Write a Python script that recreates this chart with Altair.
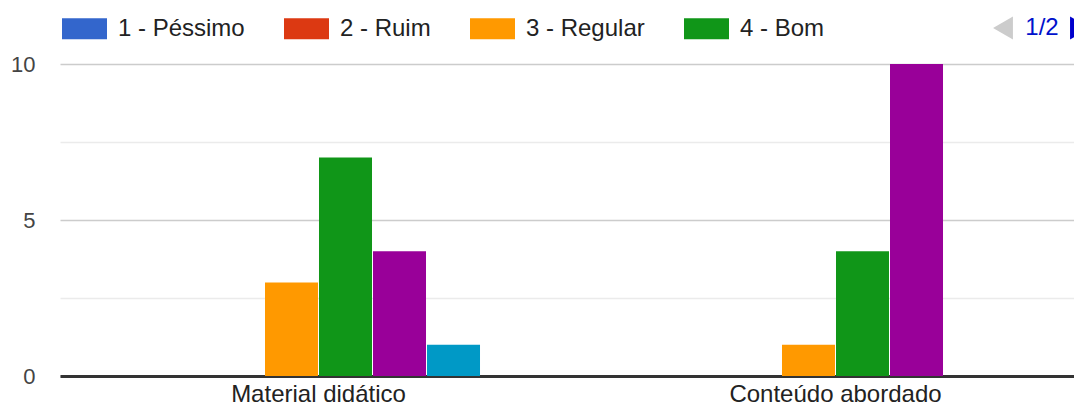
import altair as alt
import pandas as pd

categories = ["Material didático", "Conteúdo abordado"]
series = ["1 - Péssimo", "2 - Ruim", "3 - Regular", "4 - Bom", "5 - Ótimo", "6 - Excelente"]
material = [0, 0, 3, 7, 4, 1]
conteudo = [0, 0, 1, 4, 10, 0]
colors = ["#3366cc", "#dc3912", "#ff9900", "#109618", "#990099", "#0099c6"]
legend_items = series[:4]
y_ticks = [0, 2.5, 5, 7.5, 10]
pager_text = ["1/2"]

rows = []
for cat, vals in zip(categories, [material, conteudo]):
    for s, v in zip(series, vals):
        rows.append({"category": cat, "series": s, "value": v})
df = pd.DataFrame(rows)

FONT = "Liberation Sans"

bars = alt.Chart(df).mark_bar().encode(
    x=alt.X(
        "category:N",
        sort=categories,
        scale=alt.Scale(range=[0, 1034], paddingInner=0.3752, paddingOuter=0.1876),
        axis=alt.Axis(
            title=None, labelAngle=0, ticks=False, domain=True,
            domainColor="#333333", domainWidth=3,
            labelFontSize=24, labelColor="#222222", labelFont=FONT,
            labelPadding=6, labelLimit=500,
        ),
    ),
    xOffset=alt.XOffset(
        "series:N", sort=series,
        scale=alt.Scale(paddingInner=0.0185, paddingOuter=0),
    ),
    y=alt.Y(
        "value:Q",
        scale=alt.Scale(domain=[0, 10], nice=False),
        axis=alt.Axis(
            title=None, values=y_ticks, domain=False, ticks=False,
            labelExpr="datum.value % 5 == 0 ? datum.label : ''",
            labelFontSize=22, labelColor="#444444", labelFont=FONT,
            labelPadding=25,
            gridColor={"condition": {"test": "datum.value % 5 != 0", "value": "#ebebeb"}, "value": "#cccccc"},
            gridWidth=1.5,
        ),
    ),
    color=alt.Color(
        "series:N",
        scale=alt.Scale(domain=series, range=colors),
        legend=alt.Legend(
            title=None, values=legend_items, orient="none",
            direction="horizontal", columns=4,
            legendX=2, legendY=-58,
            symbolType="M-1,-0.467H1V0.467H-1Z", symbolSize=2025,
            symbolStrokeWidth=0, symbolOpacity=1,
            labelFontSize=24, labelColor="#222222", labelFont=FONT,
            labelOffset=11, columnPadding=39, padding=0,
        ),
    ),
)

pager_df = pd.DataFrame({"t": pager_text})
left_tri = alt.Chart(pager_df).mark_point(
    shape="triangle-left", filled=True, opacity=1, color="#cccccc", size=529
).encode(x=alt.value(943), y=alt.value(-36))
right_tri = alt.Chart(pager_df).mark_point(
    shape="triangle-right", filled=True, opacity=1, color="#0000cc", size=529
).encode(x=alt.value(1020), y=alt.value(-36))
pager = alt.Chart(pager_df).mark_text(
    font=FONT, fontSize=24, color="#0011cc", align="center", baseline="middle"
).encode(x=alt.value(982), y=alt.value(-36), text="t:N")

chart = alt.layer(bars, left_tri, right_tri, pager).properties(
    width=1014, height=312,
    autosize=alt.AutoSizeParams(type="none"),
    padding={"left": 52, "top": 56, "right": 0, "bottom": 31},
).configure_view(stroke=None)

chart.save("out.html", embed_options={"renderer": "svg", "actions": False})
